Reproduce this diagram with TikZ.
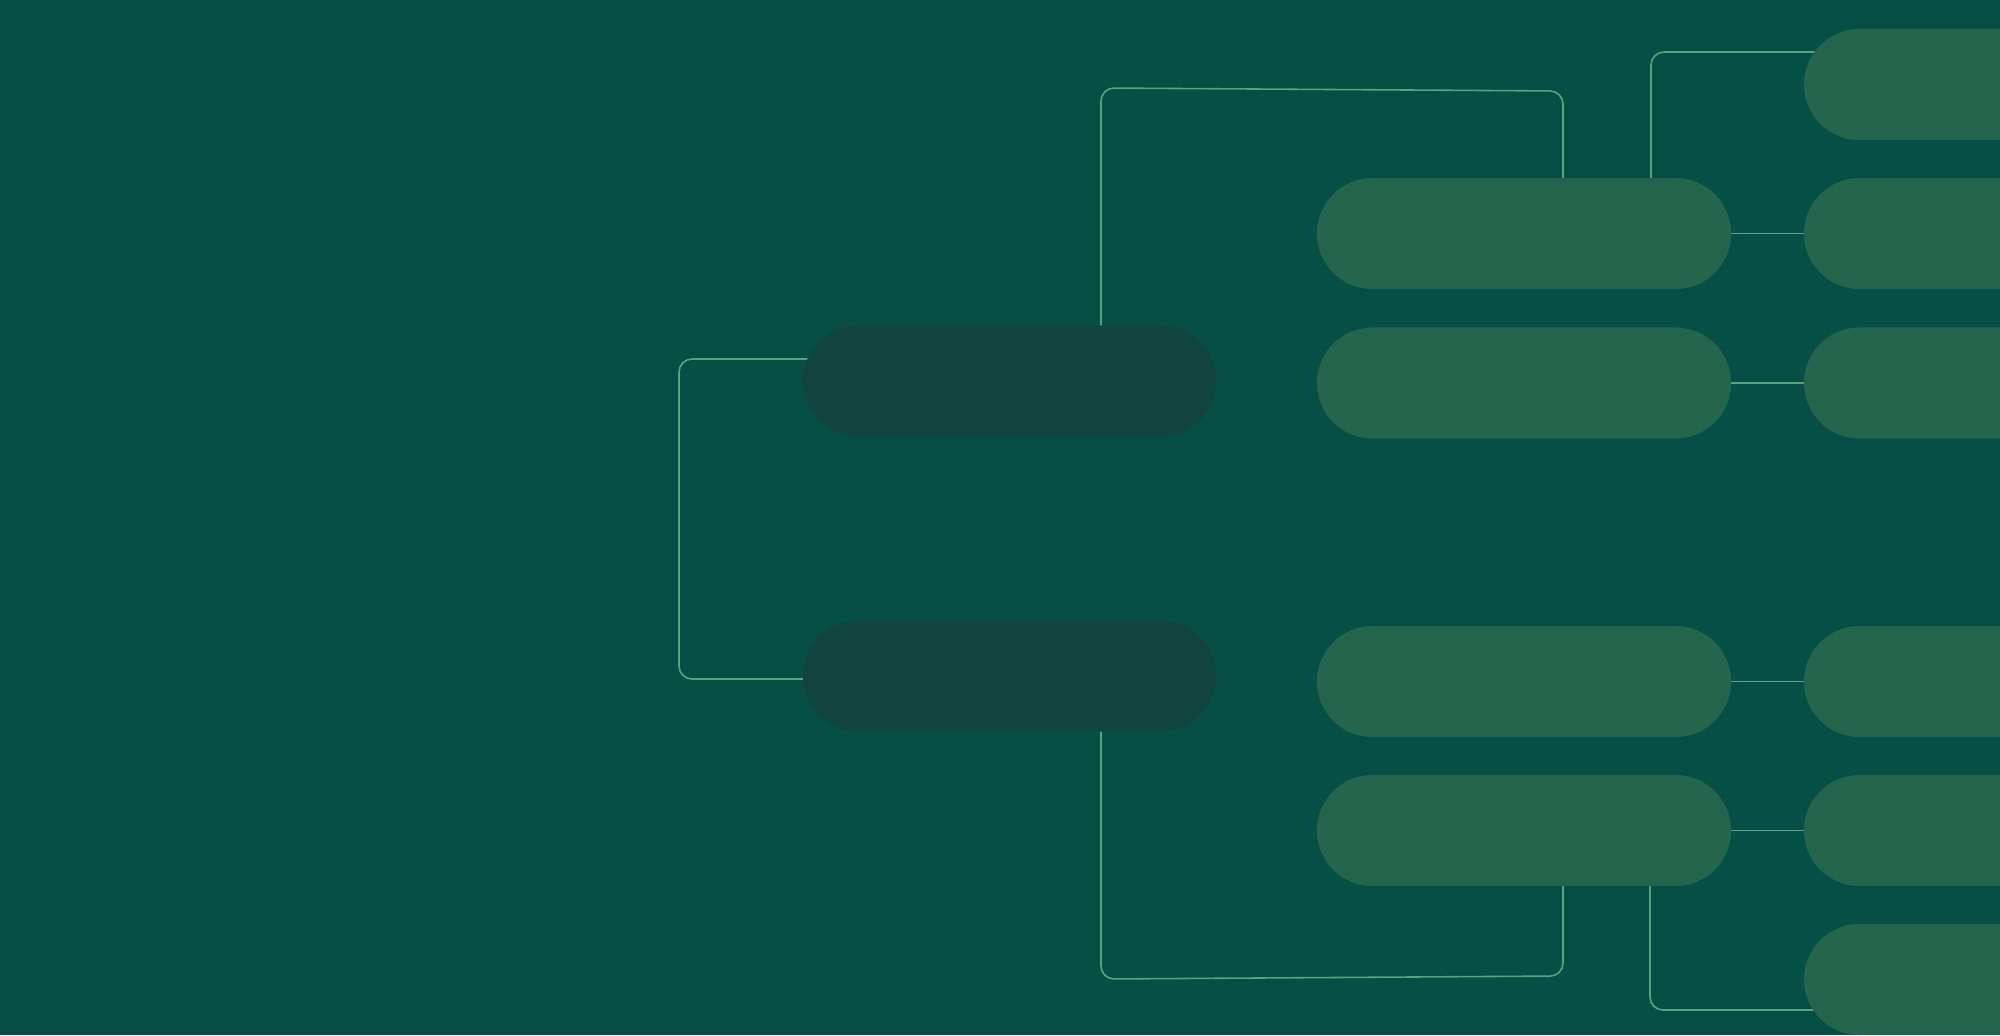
\documentclass[tikz,border=0pt]{standalone}
\usetikzlibrary{shapes.misc}
\pgfdeclarelayer{bglayer}
\pgfdeclarelayer{linklayer}
\pgfsetlayers{bglayer,linklayer,main}
\definecolor{bgc}{HTML}{074F44}
\definecolor{darkc}{HTML}{11443C}
\definecolor{lightc}{HTML}{25654E}
\definecolor{linec}{HTML}{5FA07F}
\begin{document}
\begin{tikzpicture}[x=0.01cm,y=-0.01cm,
  pill/.style={rounded rectangle, inner sep=0pt, minimum height=1.11cm, draw=none},
  darkpill/.style={pill, fill=darkc, minimum width=4.13cm},
  midpill/.style={pill, fill=lightc, minimum width=4.14cm},
  edgepill/.style={pill, fill=lightc, rounded rectangle right arc=none, minimum width=1.96cm},
  link/.style={draw=linec, line width=0.45pt, rounded corners=0.13cm}]
\useasboundingbox (0,0) rectangle (2000,1035);
\begin{pgfonlayer}{bglayer}
\fill[bgc] (0,0) rectangle (2000,1035);
\end{pgfonlayer}

% level 1 (dark)
\node[darkpill] (d1) at (1009.5,381) {};
\node[darkpill] (d2) at (1009.5,676) {};
% level 2
\node[midpill] (a)  at (1524,233.5) {};
\node[midpill] (b)  at (1524,383) {};
\node[midpill] (c)  at (1524,681.5) {};
\node[midpill] (dd) at (1524,830.5) {};
% level 3 (cut at right edge)
\node[edgepill] (r1) at (1902,84.5) {};
\node[edgepill] (r2) at (1902,233.5) {};
\node[edgepill] (r3) at (1902,383) {};
\node[edgepill] (r4) at (1902,681.5) {};
\node[edgepill] (r5) at (1902,830.5) {};
\node[edgepill] (r6) at (1902,979.5) {};

\coordinate (lb1) at (679,359);
\coordinate (lb2) at (679,679);
\coordinate (tb1) at (1101,88);
\coordinate (tb2) at (1563,91);
\coordinate (bb1) at (1101,979);
\coordinate (bb2) at (1563,976);
\coordinate (st1) at (1651,52);
\coordinate (sb1) at (1650,1010);

\begin{pgfonlayer}{linklayer}
\draw[link] (d1.center |- lb1) -- (lb1) -- (lb2) -- (d2.center |- lb2);
\draw[link] (d1.center -| tb1) -- (tb1) -- (tb2) -- (a.center -| tb2);
\draw[link] (d2.center -| bb1) -- (bb1) -- (bb2) -- (dd.center -| bb2);
\draw[link] (a.center -| st1) -- (st1) -- (r1.center |- st1);
\draw[link] (dd.center -| sb1) -- (sb1) -- (r6.center |- sb1);
\draw[link] (a.center) -- (r2.center);
\draw[link] (b.center) -- (r3.center);
\draw[link] (c.center) -- (r4.center);
\draw[link] (dd.center) -- (r5.center);
\end{pgfonlayer}
\end{tikzpicture}
\end{document}
